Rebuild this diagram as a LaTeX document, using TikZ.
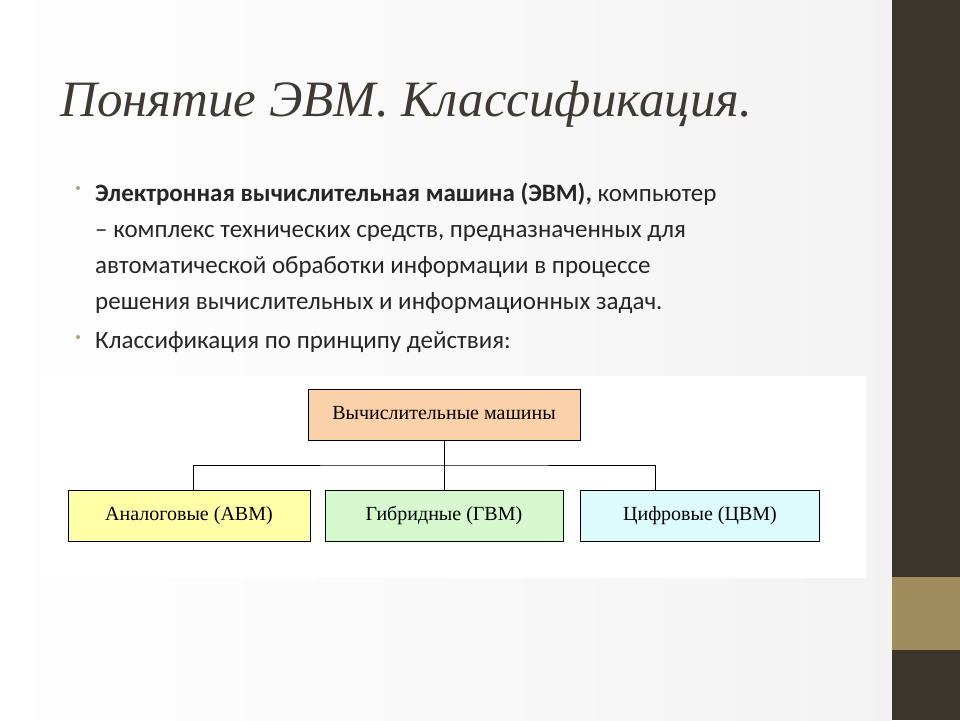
\documentclass[tikz,border=0pt]{standalone}
\usepackage{fontspec}
\setmainfont{Liberation Serif}
\newfontfamily\bodyfont{Carlito}
\usetikzlibrary{positioning}
\definecolor{strip}{HTML}{3B362D}
\definecolor{tan}{HTML}{A08D5E}
\definecolor{bulletc}{HTML}{B5A07A}
\definecolor{titlec}{HTML}{3F3A33}
\definecolor{topc}{HTML}{FAD1A8}
\definecolor{leftc}{HTML}{FFFFA8}
\definecolor{midc}{HTML}{D5F8CF}
\definecolor{rightc}{HTML}{DDFBFD}
\tikzset{
  box/.style={draw, line width=0.8pt, minimum height=51pt, inner sep=0pt, text height=14pt, text depth=5pt, font=\fontsize{20}{24}\selectfont},
  line/.style={line width=0.6pt},
}
\begin{document}
\begin{tikzpicture}[x=1pt,y=-1pt]
        \useasboundingbox (0,0) rectangle (960,720);
        \fill [left color=white, right color=black!5] (0,0) rectangle (892,720);
        \fill [strip] (892,0) rectangle (960,720);
        \fill [tan] (892,577) rectangle (960,650);
        \fill [white] (40,376) rectangle (866,578);
        \node [anchor=base west, inner sep=0pt, text=titlec, font=\fontsize{51}{56}\selectfont\itshape] (title) at (60,116) {Понятие ЭВМ. Классификация.};
        \node [anchor=north west, align=left, inner sep=0pt, font=\bodyfont\fontsize{25}{36}\selectfont, text=black!85] (def) at (95,183)
            {\textbf{Электронная вычислительная машина (ЭВМ),} компьютер\\
             – комплекс технических средств, предназначенных для\\
             автоматической обработки информации в процессе\\
             решения вычислительных и информационных задач.};
        \node [anchor=base west, inner sep=0pt, font=\bodyfont\fontsize{25}{30}\selectfont, text=black!85] (cls) at (95,348) {Классификация по принципу действия:};
        \foreach \y in {188,337} {
            \fill [bulletc] (78,\y) circle (2pt);
        }
        % diagram
        \node [box, fill=topc, minimum width=272pt] (vm) at (444,415) {Вычислительные машины};
        \node [box, fill=leftc, minimum width=242pt] (avm) at (189,516) {Аналоговые (АВМ)};
        \node [box, fill=midc, minimum width=238pt] (gvm) at (444,516) {Гибридные (ГВМ)};
        \node [box, fill=rightc, minimum width=239pt] (cvm) at (700,516) {Цифровые (ЦВМ)};
        \coordinate (bus) at (444,465);
        \draw [line] (vm) -- (gvm);
        \draw [line] (193,490) |- (bus) -| (655,490);
\end{tikzpicture}
\end{document}
